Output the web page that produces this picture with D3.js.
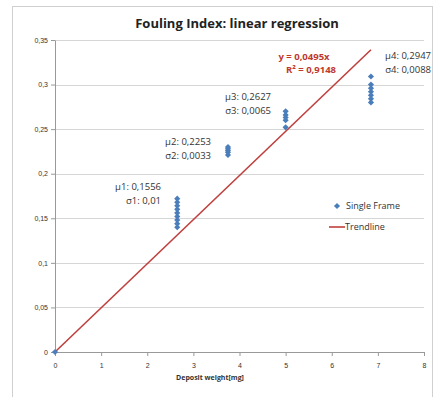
<!DOCTYPE html>
<html><head><meta charset="utf-8">
<script src="https://cdn.jsdelivr.net/npm/d3@7"></script>
<style>body{margin:0;background:#fff;}svg{display:block;font-family:"Open Sans","Liberation Sans",sans-serif;}</style>
</head><body>
<svg id="c" width="447" height="397"></svg>
<script>
const title = "Fouling Index: linear regression";
const xLabel = "Deposit  weight[mg]";
const xTicks = [0,1,2,3,4,5,6,7,8];
const yTicks = [0,0.05,0.1,0.15,0.2,0.25,0.3,0.35];
const groupX = [0, 2.65, 3.75, 5.0, 6.85];
const groupValues = [
  [0],
  [0.14,0.144,0.148,0.152,0.156,0.16,0.164,0.168,0.172],
  [0.221,0.224,0.226,0.228,0.23],
  [0.252,0.26,0.263,0.266,0.27],
  [0.28,0.284,0.288,0.292,0.296,0.3,0.309]
];
const slope = 0.0495;
const trendX = [0, 6.85];
const annotations = [
  {x:2.65, lines:["µ1: 0,1556","σ1: 0,01"]},
  {x:3.75, lines:["µ2: 0,2253","σ2: 0,0033"]},
  {x:5.0, lines:["µ3: 0,2627","σ3: 0,0065"]},
  {x:6.85, lines:["µ4: 0,2947","σ4: 0,0088"]}
];
const eqLines = ["y = 0,0495x","R² = 0,9148"];
const legendItems = ["Single Frame","Trendline"];

const svg = d3.select("#c");
const x = d3.scaleLinear().domain([0,8]).range([55,424]);
const y = d3.scaleLinear().domain([0,0.35]).range([352,40]);
const fmt = d => d===0 ? "0" : String(d).replace(".", ",");

// outer frame
svg.append("rect").attr("x",12.5).attr("y",6.5).attr("width",420).attr("height",400)
  .attr("fill","none").attr("stroke","#d0d0d0");

svg.append("text").attr("x",237).attr("y",28).attr("text-anchor","middle")
  .attr("font-size",13).attr("font-weight","bold").attr("fill","#222").text(title);

// gridlines
svg.append("g").selectAll("line").data(yTicks.filter(d=>d>0)).join("line")
  .attr("x1",x(0)).attr("x2",x(8)).attr("y1",d=>Math.round(y(d))+0.5).attr("y2",d=>Math.round(y(d))+0.5)
  .attr("stroke","#d6d6d6");

const ya = svg.append("g").attr("transform",`translate(${x(0)},0)`)
  .call(d3.axisLeft(y).tickValues(yTicks).tickFormat(fmt).tickSize(4).tickSizeOuter(0));
const xa = svg.append("g").attr("transform",`translate(0,${y(0)})`)
  .call(d3.axisBottom(x).tickValues(xTicks).tickFormat(fmt).tickSize(4).tickSizeOuter(0));
[ya,xa].forEach(a=>{
  a.selectAll("path,line").attr("stroke","#999");
  a.selectAll("text").attr("font-size",7).attr("fill","#333");
});
ya.selectAll("text").attr("x",-7);
xa.selectAll("text").attr("dy","1.3em");

svg.append("text").attr("x",210).attr("y",380).attr("text-anchor","middle")
  .attr("font-size",7).attr("font-weight","bold").attr("fill","#333").text(xLabel);

// trendline
svg.append("line").attr("x1",x(trendX[0])).attr("y1",y(slope*trendX[0]))
  .attr("x2",x(trendX[1])).attr("y2",y(slope*trendX[1]))
  .attr("stroke","#c0403d").attr("stroke-width",1.6);

// points
const pts = [];
groupX.forEach((gx,i)=>groupValues[i].forEach(v=>pts.push([gx,v])));
const diamond = d3.symbol().type(d3.symbolDiamond2).size(24);
svg.append("g").selectAll("path").data(pts).join("path")
  .attr("d",diamond).attr("transform",d=>`translate(${x(d[0])},${y(d[1])})`)
  .attr("fill","#4a7ebb");

// annotations
const annPos = [[161,190],[211,145],[271,100],[431,59]];
annotations.forEach((a,i)=>{
  const t = svg.append("text").attr("text-anchor","end").attr("font-size",9.5).attr("fill","#333");
  a.lines.forEach((l,j)=>t.append("tspan").attr("x",annPos[i][0]).attr("y",annPos[i][1]+j*14).text(l));
});
const eq = svg.append("text").attr("text-anchor","middle").attr("font-size",9.5)
  .attr("font-weight","bold").attr("fill","#c0392b");
eqLines.forEach((l,j)=>eq.append("tspan").attr("x",[304,311][j]).attr("y",60+j*13).text(l));

// legend
svg.append("path").attr("d",diamond).attr("transform","translate(337,206)").attr("fill","#4a7ebb");
svg.append("text").attr("x",346).attr("y",209).attr("font-size",9).attr("fill","#333").text(legendItems[0]);
svg.append("line").attr("x1",329).attr("x2",345).attr("y1",227).attr("y2",227).attr("stroke","#c0403d").attr("stroke-width",1.6);
svg.append("text").attr("x",345).attr("y",230).attr("font-size",9).attr("fill","#333").text(legendItems[1]);
</script>
</body></html>
